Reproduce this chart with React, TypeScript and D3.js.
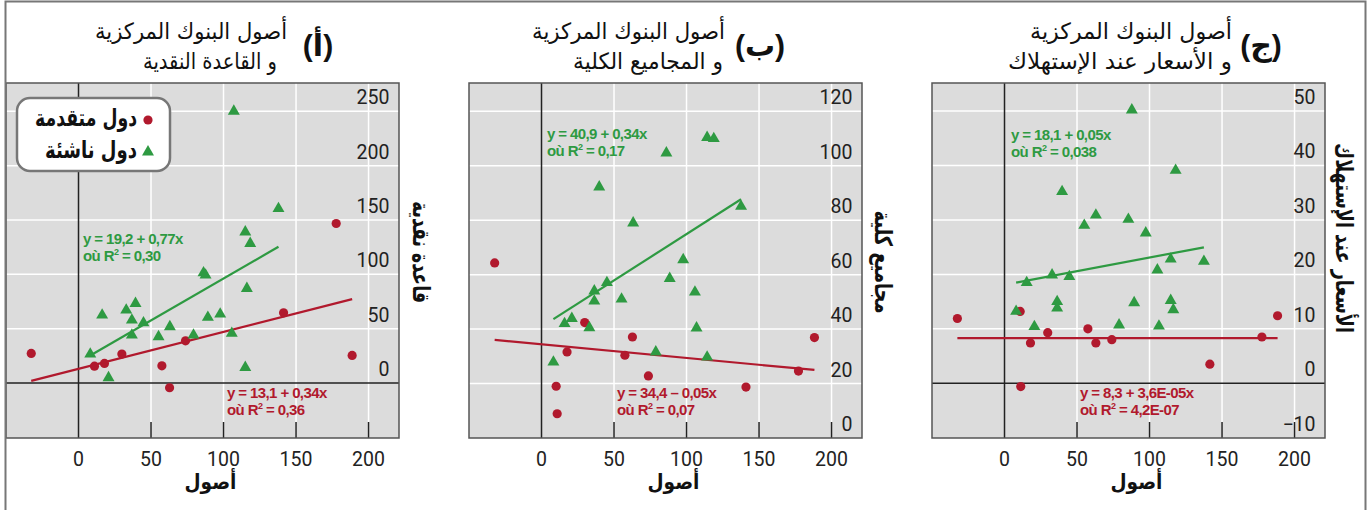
import React from 'react';
import * as d3 from 'd3';

// ---------- data ----------
const xTicks = [0, 50, 100, 150, 200];

// Panel (أ): central bank assets vs monetary base
const aAdvanced: [number, number][] = [
  [-32.6, 27.3], [11.0, 15.6], [17.9, 18.1], [29.9, 26.7], [57.5, 15.9],
  [62.8, -4.3], [73.8, 38.9], [141.4, 64.6], [177.7, 146.8], [188.7, 25.4],
];
const aEmerging: [number, number][] = [
  [107.1, 250], [137.9, 160.5], [115, 139], [118.4, 128.4], [86.2, 101.4],
  [87.6, 99.3], [116.1, 87], [97.7, 63.4], [89.2, 60.4], [105.7, 45.7],
  [115, 14.4], [79.3, 44.1], [63, 51.8], [55.2, 42.6], [44.8, 55.4],
  [39.3, 73.2], [32.9, 67.1], [36.8, 57.9], [36.8, 44.1], [16.3, 62.5],
  [8.1, 26.7], [20.7, 4.9],
];
const aAdvFit = [13.1, 0.34];
const aEmgFit = [19.2, 0.77];
const aYTicks = [0, 50, 100, 150, 200, 250];

// Panel (ب): central bank assets vs broad aggregates
const bAdvanced: [number, number][] = [
  [-32.3, 64.3], [29.8, 42.4], [62.7, 37.1], [17.6, 31.6], [57.5, 30.4],
  [73.7, 22.8], [10.1, 19.0], [10.8, 8.9], [141, 18.7], [177.2, 24.6],
  [188.2, 36.9],
];
const bEmerging: [number, number][] = [
  [114.2, 110.4], [118.8, 110], [86.1, 104.7], [39.8, 92.2], [137.6, 85.1],
  [63.2, 79], [97.7, 65.5], [88.4, 58.6], [45.1, 57.1], [36.4, 54],
  [105.8, 53.6], [36.4, 50.3], [55.2, 51], [20.9, 43.9], [15.9, 42],
  [33, 40.5], [106.9, 40.4], [78.8, 31.6], [114.2, 29.7], [8.2, 27.9],
];
const bAdvFit = [34.4, -0.05];
const bEmgFit = [40.9, 0.34];
const bYTicks = [0, 20, 40, 60, 80, 100, 120];

// Panel (ج): central bank assets vs consumer prices
const cAdvanced: [number, number][] = [
  [-32.5, 11.9], [10.8, 13.2], [17.9, 7.4], [29.8, 9.3], [57.5, 10.0],
  [63, 7.4], [74, 8.0], [11.2, -0.6], [141.6, 3.5], [177.5, 8.5],
  [188.3, 12.4],
];
const cEmerging: [number, number][] = [
  [87.8, 50.2], [118, 39.1], [39.7, 35.2], [63, 30.9], [85.4, 30.1],
  [55, 29], [97.4, 27.6], [114.6, 22.8], [137.5, 22.4], [105.4, 20.8],
  [32.8, 19.9], [44.7, 19.6], [15.3, 18.5], [36.3, 15], [36.3, 13.8],
  [89.4, 14.8], [114.6, 15.2], [116.4, 13.5], [8, 13.2], [20.6, 10.4],
  [79, 10.7], [106.5, 10.5],
];
const cAdvFit = [8.3, 3.6e-5];
const cEmgFit = [18.1, 0.05];
const cYTicks = [-10, 0, 10, 20, 30, 40, 50];

// ---------- styling ----------
const RED = '#b1192d';
const GREEN = '#2e9a42';
const BG = '#dcdcdc';
const AR = "'DejaVu Sans', sans-serif";
const NUM = "Roboto, 'Liberation Sans', sans-serif";
const EQ = "'Liberation Sans', Arial, sans-serif";

const TOP = 83;
const BOTTOM = 438;
const PW = 393;

type PanelCfg = {
  left: number;
  yDomain: [number, number];
  yTicks: number[];
  zeroLine: boolean;
  adv: [number, number][];
  emg: [number, number][];
  advFit: number[];
  emgFit: number[];
  advEq: [string, string];
  emgEq: [string, string];
  advEqPos: [number, number];
  emgEqPos: [number, number];
  title1: string;
  title2: string;
  t1: [number, number];
  t2: [number, number];
  letter: string;
  letterX: number;
  yTitle: string;
  yTitlePos: [number, number];
  yTitleLen: number;
  legend?: boolean;
};

const panels: PanelCfg[] = [
  {
    left: 6, yDomain: [-50.5, 276], yTicks: aYTicks, zeroLine: true,
    adv: aAdvanced, emg: aEmerging, advFit: aAdvFit, emgFit: aEmgFit,
    advEq: ['y = 13,1 + 0,34x', '0,36'], emgEq: ['y = 19,2 + 0,77x', '0,30'],
    advEqPos: [227, 398], emgEqPos: [83, 244],
    title1: 'أصول البنوك المركزية', title2: 'و القاعدة النقدية',
    t1: [287, 192], t2: [277, 134], letter: '(أ)', letterX: 318,
    yTitle: 'قاعدة نقدية', yTitlePos: [413, 252], yTitleLen: 102, legend: true,
  },
  {
    left: 469, yDomain: [0, 130.4], yTicks: bYTicks, zeroLine: false,
    adv: bAdvanced, emg: bEmerging, advFit: bAdvFit, emgFit: bEmgFit,
    advEq: ['y = 34,4 \u2013 0,05x', '0,07'], emgEq: ['y = 40,9 + 0,34x', '0,17'],
    advEqPos: [617, 398], emgEqPos: [547, 139],
    title1: 'أصول البنوك المركزية', title2: 'و المجاميع الكلية',
    t1: [725, 193], t2: [723, 150], letter: '(ب)', letterX: 760,
    yTitle: 'مجاميع كلية', yTitlePos: [875, 262], yTitleLen: 103,
  },
  {
    left: 932, yDomain: [-10.05, 55.15], yTicks: cYTicks, zeroLine: true,
    adv: cAdvanced, emg: cEmerging, advFit: cAdvFit, emgFit: cEmgFit,
    advEq: ['y = 8,3 + 3,6E-05x', '4,2E-07'], emgEq: ['y = 18,1 + 0,05x', '0,038'],
    advEqPos: [1080, 398], emgEqPos: [1011, 140],
    title1: 'أصول البنوك المركزية', title2: 'و الأسعار عند الإستهلاك',
    t1: [1232, 202], t2: [1232, 224], letter: '(ج)', letterX: 1261,
    yTitle: 'الأسعار عند الإستهلاك', yTitlePos: [1336, 238], yTitleLen: 190,
  },
];

const tri = d3.symbol(d3.symbolTriangle, 62)() as string;

function Equation({ x, y, color, line1, r2 }: { x: number; y: number; color: string; line1: string; r2: string }) {
  const common = { fontFamily: EQ, fontWeight: 700, fontSize: 15, letterSpacing: -0.6, fill: color } as const;
  return (
    <g>
      <text x={x} y={y} {...common}>{line1}</text>
      <text x={x} y={y + 17} {...common}>
        <tspan>où R</tspan>
        <tspan fontSize={9} dy={-6}>2</tspan>
        <tspan dy={6}>{` = ${r2}`}</tspan>
      </text>
    </g>
  );
}

function Panel({ p }: { p: PanelCfg }) {
  const x = d3.scaleLinear().domain([-50, 221]).range([p.left, p.left + PW]);
  const y = d3.scaleLinear().domain(p.yDomain).range([BOTTOM, TOP]);
  const right = p.left + PW;
  const fitLine = (pts: [number, number][], fit: number[]) => {
    const ext = d3.extent(pts, (d) => d[0]) as [number, number];
    const line = d3.line<number>().x((v) => x(v)).y((v) => y(fit[0] + fit[1] * v));
    return line(ext) as string;
  };
  const gridY = p.yTicks.filter((t) => t !== 0 && y(t) < BOTTOM - 1);
  return (
    <g>
      {/* titles */}
      <text x={p.t1[0]} y={39} textAnchor="end" fontFamily={AR} fontSize={22.5}
        textLength={p.t1[1]} lengthAdjust="spacingAndGlyphs" fill="#111">{p.title1}</text>
      <text x={p.t2[0]} y={69} textAnchor="end" fontFamily={AR} fontSize={22.5}
        textLength={p.t2[1]} lengthAdjust="spacingAndGlyphs" fill="#111">{p.title2}</text>
      <text x={p.letterX} y={56} textAnchor="middle" fontFamily={"'Liberation Sans', 'DejaVu Sans', sans-serif"}
        fontWeight={700} fontSize={30} fill="#111">{p.letter}</text>

      {/* plot background */}
      <rect x={p.left} y={TOP} width={PW} height={BOTTOM - TOP} fill={BG} />
      {/* horizontal grid */}
      {gridY.map((t) => (
        <line key={'h' + t} x1={p.left} x2={right} y1={y(t)} y2={y(t)} stroke="#fff" strokeWidth={1.5} />
      ))}
      {/* vertical grid */}
      {xTicks.filter((t) => t !== 0).map((t) => (
        <g key={'v' + t}>
          <line x1={x(t)} x2={x(t)} y1={TOP} y2={BOTTOM} stroke="#fff" strokeWidth={1.5} />
          <line x1={x(t)} x2={x(t)} y1={BOTTOM - 16} y2={BOTTOM} stroke="#222" strokeWidth={1.5} />
        </g>
      ))}
      {/* zero lines */}
      <line x1={x(0)} x2={x(0)} y1={TOP} y2={BOTTOM} stroke="#222" strokeWidth={1.5} />
      {p.zeroLine && <line x1={p.left} x2={right} y1={y(0)} y2={y(0)} stroke="#222" strokeWidth={1.5} />}

      {/* y tick labels */}
      {p.yTicks.map((t) => (
        <text key={'yl' + t} x={right - 9.5} y={y(t) - 7} textAnchor="end" fontFamily={NUM} fontSize={19.5} fill="#222">
          {d3.format('')(t)}
        </text>
      ))}

      {/* fit lines */}
      <path d={fitLine(p.adv, p.advFit)} stroke={RED} strokeWidth={2.2} fill="none" />
      <path d={fitLine(p.emg, p.emgFit)} stroke={GREEN} strokeWidth={2.2} fill="none" />

      {/* points */}
      {p.adv.map((d, i) => (
        <circle key={'a' + i} cx={x(d[0])} cy={y(d[1])} r={4.6} fill={RED} />
      ))}
      {p.emg.map((d, i) => (
        <path key={'e' + i} d={tri} transform={`translate(${x(d[0])},${y(d[1])})`} fill={GREEN} />
      ))}

      {/* equations */}
      <Equation x={p.emgEqPos[0]} y={p.emgEqPos[1]} color={GREEN} line1={p.emgEq[0]} r2={p.emgEq[1]} />
      <Equation x={p.advEqPos[0]} y={p.advEqPos[1]} color={RED} line1={p.advEq[0]} r2={p.advEq[1]} />

      {/* plot frame */}
      <rect x={p.left} y={TOP} width={PW} height={BOTTOM - TOP} fill="none" stroke="#555" strokeWidth={1.5} />

      {/* x tick labels */}
      {xTicks.map((t) => (
        <text key={'xl' + t} x={x(t)} y={466} textAnchor="middle" fontFamily={NUM} fontSize={19.5} fill="#222">{t}</text>
      ))}
      <text x={x(91)} y={489} textAnchor="middle" fontFamily={AR} fontWeight={700} fontSize={21} fill="#111"
        textLength={52} lengthAdjust="spacingAndGlyphs">أصول</text>

      {/* y title */}
      <text transform={`translate(${p.yTitlePos[0]},${p.yTitlePos[1]}) rotate(90)`} textAnchor="middle"
        fontFamily={AR} fontWeight={700} fontSize={24} fill="#111"
        textLength={p.yTitleLen} lengthAdjust="spacingAndGlyphs">{p.yTitle}</text>

      {p.legend && (
        <g>
          <rect x={17} y={98} width={153} height={73} rx={13} fill="#fff" stroke="#777" strokeWidth={2.5} />
          <circle cx={148} cy={120} r={4.6} fill={RED} />
          <text x={137} y={126} textAnchor="end" fontFamily={AR} fontWeight={700} fontSize={24} fill="#111"
            textLength={102} lengthAdjust="spacingAndGlyphs">دول متقدمة</text>
          <path d={tri} transform="translate(148,152)" fill={GREEN} />
          <text x={137} y={158} textAnchor="end" fontFamily={AR} fontWeight={700} fontSize={24} fill="#111"
            textLength={92} lengthAdjust="spacingAndGlyphs">دول ناشئة</text>
        </g>
      )}
    </g>
  );
}

export default function App() {
  return (
    <svg width={1372} height={510} viewBox="0 0 1372 510"
      style={{ position: 'absolute', left: 0, top: 0, background: '#fff' }}>
      <rect x={0} y={0} width={1372} height={510} fill="#fff" />
      {panels.map((p, i) => (
        <Panel key={i} p={p} />
      ))}
      {/* outer frame */}
      <path d="M5.5,512 V1.5 H1365.5 V512" fill="none" stroke="#777" strokeWidth={2} />
    </svg>
  );
}
